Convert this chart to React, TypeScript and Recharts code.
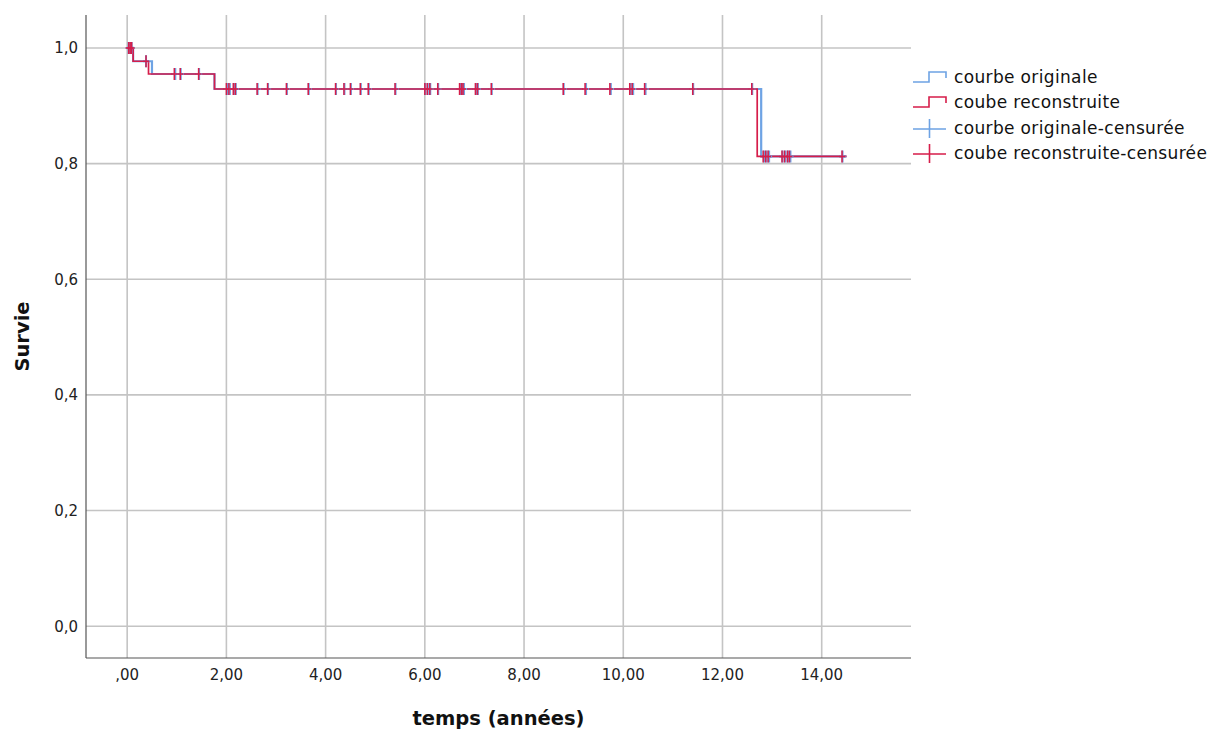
import React from 'react';
import { ComposedChart, Line, Scatter, XAxis, YAxis, CartesianGrid, Legend } from 'recharts';

// Kaplan-Meier steps (time in years, survival)
const originalTimes = [0, 0.12, 0.5, 1.76, 12.78, 14.5];
const originalSurvival = [1, 0.977, 0.955, 0.929, 0.8125, 0.8125];
const reconstructedTimes = [0, 0.12, 0.43, 1.76, 12.7, 14.5];
const reconstructedSurvival = [1, 0.977, 0.955, 0.929, 0.8125, 0.8125];

// censored observations (time in years)
const originalCensorTimes = [
  0.03, 0.06, 0.09, 0.38, 0.97, 1.08, 1.45, 2.02, 2.07, 2.15, 2.19, 2.63, 2.84, 3.22, 3.66,
  4.21, 4.38, 4.51, 4.71, 4.87, 5.41, 6.01, 6.06, 6.11, 6.27, 6.72, 6.76, 6.79, 7.03, 7.07,
  7.35, 8.8, 9.25, 9.75, 10.15, 10.2, 10.45, 11.41, 12.6, 12.84, 12.89, 12.94, 13.21, 13.27,
  13.32, 13.37, 14.42,
];
const reconstructedCensorTimes = [
  0.03, 0.06, 0.09, 0.38, 0.95, 1.07, 1.44, 2.0, 2.05, 2.14, 2.18, 2.62, 2.83, 3.21, 3.65,
  4.2, 4.37, 4.5, 4.7, 4.86, 5.4, 6.0, 6.05, 6.1, 6.26, 6.7, 6.74, 6.77, 7.02, 7.06, 7.34,
  8.79, 9.23, 9.73, 10.13, 10.18, 10.43, 11.4, 12.59, 12.82, 12.87, 12.92, 13.2, 13.25,
  13.31, 13.35, 14.41,
];

const xTicks = [0, 2, 4, 6, 8, 10, 12, 14];
const yTicks = [0, 0.2, 0.4, 0.6, 0.8, 1.0];

const BLUE = '#6ea3e4';
const RED = '#d61d4a';

const toSteps = (times: number[], surv: number[]) => times.map((t, i) => ({ t, s: surv[i] }));

const levelAt = (times: number[], surv: number[], t: number) => {
  let s = surv[0];
  times.forEach((tt, i) => {
    if (tt <= t) s = surv[i];
  });
  return s;
};

const originalData = toSteps(originalTimes, originalSurvival);
const reconstructedData = toSteps(reconstructedTimes, reconstructedSurvival);
const originalCensored = originalCensorTimes.map((t) => ({ t, s: levelAt(originalTimes, originalSurvival, t) }));
const reconstructedCensored = reconstructedCensorTimes.map((t) => ({
  t,
  s: levelAt(reconstructedTimes, reconstructedSurvival, t),
}));

const censorShape = (color: string, width: number) => (props: any) => {
  const { cx, cy } = props;
  return (
    <path
      d={`M${cx},${cy - 6} V${cy + 6} M${cx - 3},${cy} H${cx + 3}`}
      stroke={color}
      strokeWidth={width}
      fill="none"
    />
  );
};

const legendItems = [
  { label: 'courbe originale', color: BLUE, kind: 'step' },
  { label: 'coube reconstruite', color: RED, kind: 'step' },
  { label: 'courbe originale-censurée', color: BLUE, kind: 'plus' },
  { label: 'coube reconstruite-censurée', color: RED, kind: 'plus' },
];

const LegendContent = () => (
  <div style={{ fontFamily: 'DejaVu Sans, sans-serif', fontSize: 17, letterSpacing: 0.35, color: '#111' }}>
    {legendItems.map((item) => (
      <div key={item.label} style={{ display: 'flex', alignItems: 'center', height: 25.5 }}>
        <svg width={36} height={20} style={{ marginRight: 6 }}>
          {item.kind === 'step' ? (
            <path d="M1,15 H17 V5 H34 V11" stroke={item.color} strokeWidth={1.6} fill="none" />
          ) : (
            <path d="M1,11 H34 M17.5,1 V20" stroke={item.color} strokeWidth={1.6} fill="none" />
          )}
        </svg>
        <span>{item.label}</span>
      </div>
    ))}
  </div>
);

const fmtX = (v: number) => (v === 0 ? ',00' : v.toFixed(2).replace('.', ','));
const fmtY = (v: number) => v.toFixed(1).replace('.', ',');

const tickStyle = { fontFamily: 'DejaVu Sans, sans-serif', fontSize: 15, fill: '#222' };
const labelStyle = { fontFamily: 'DejaVu Sans, sans-serif', fontSize: 19.5, fontWeight: 'bold', fill: '#111' };

export default function App() {
  return (
    <div style={{ position: 'absolute', left: 0, top: 0, background: '#fff' }}>
      <ComposedChart width={1223} height={734} margin={{ top: 15, right: 12, bottom: 0, left: 0 }}>
        <CartesianGrid
          stroke="#c4c4c4"
          strokeWidth={1.6}
          horizontalValues={yTicks}
          verticalValues={xTicks}
        />
        <XAxis
          type="number"
          dataKey="t"
          domain={[-0.83, 15.8]}
          ticks={xTicks}
          tickFormatter={fmtX}
          allowDataOverflow
          height={76}
          tickLine={false}
          axisLine={{ stroke: '#555', strokeWidth: 1.2 }}
          tick={tickStyle}
          dy={3}
          label={{ value: 'temps (années)', position: 'center', dy: 22, style: labelStyle }}
        />
        <YAxis
          type="number"
          dataKey="s"
          domain={[-0.055, 1.057]}
          ticks={yTicks}
          tickFormatter={fmtY}
          allowDataOverflow
          width={86}
          tickLine={false}
          axisLine={{ stroke: '#555', strokeWidth: 1.2 }}
          tick={tickStyle}
          label={{ value: 'Survie', angle: -90, position: 'center', dx: -21, style: labelStyle }}
        />
        <Legend
          layout="vertical"
          align="right"
          verticalAlign="top"
          content={<LegendContent />}
          wrapperStyle={{ position: 'absolute', top: 64, left: 912, width: 300 }}
        />
        <Line
          data={originalData}
          dataKey="s"
          type="stepAfter"
          stroke={BLUE}
          strokeWidth={2.2}
          dot={false}
          activeDot={false}
          isAnimationActive={false}
        />
        <Scatter
          data={originalCensored}
          dataKey="s"
          shape={censorShape(BLUE, 2)}
          isAnimationActive={false}
        />
        <Line
          data={reconstructedData}
          dataKey="s"
          type="stepAfter"
          stroke={RED}
          strokeWidth={1.7}
          dot={false}
          activeDot={false}
          isAnimationActive={false}
        />
        <Scatter
          data={reconstructedCensored}
          dataKey="s"
          shape={censorShape(RED, 1.5)}
          isAnimationActive={false}
        />
      </ComposedChart>
    </div>
  );
}
